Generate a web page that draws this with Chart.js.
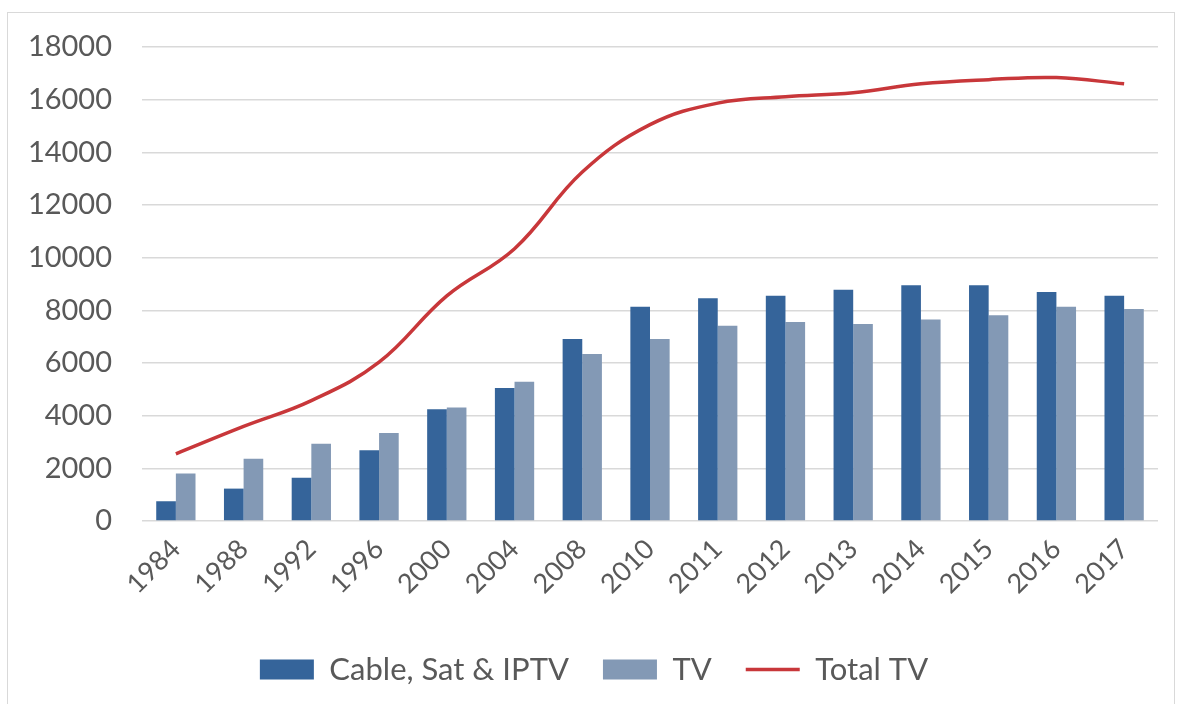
<!DOCTYPE html>
<html>
<head>
<meta charset="utf-8">
<script src="https://cdn.jsdelivr.net/npm/chart.js@4/dist/chart.umd.min.js"></script>
<style>
  body { margin: 0; background: #fff; }
  #frame {
    position: absolute;
    left: 7px;
    top: 12px;
    width: 1166px;
    height: 720px;
    border: 1px solid #d9d9d9;
  }
  canvas { display: block; }
</style>
</head>
<body>
<div id="frame">
  <canvas id="chart" width="1166" height="691"></canvas>
</div>
<script>
'use strict';

// ************************** DATA ****************************************** //
let years = ['1984', '1988', '1992', '1996', '2000', '2004', '2008', '2010',
  '2011', '2012', '2013', '2014', '2015', '2016', '2017'];
let cableSatIptv = [750, 1230, 1640, 2690, 4240, 5050, 6910, 8140, 8460, 8550, 8780, 8950, 8950, 8700, 8550];
let tv = [1800, 2360, 2930, 3340, 4310, 5290, 6340, 6910, 7410, 7560, 7480, 7650, 7810, 8140, 8050];
let totalTv = [2550, 3590, 4570, 6030, 8550, 10340, 13250, 15050, 15870, 16110, 16260, 16600, 16760, 16840, 16600];
let yTicks = [0, 2000, 4000, 6000, 8000, 10000, 12000, 14000, 16000, 18000];

// ************************** STYLE ***************************************** //
let darkBlue = '#35649a';
let greyBlue = '#8399b5';
let red = '#c8373a';
let textGrey = '#595959';
let gridGrey = '#d9d9d9';
let fontFamily = 'Lato, "Open Sans", sans-serif';

// ************************** PLUGINS *************************************** //
// nudge the legend a bit right, like the original
let shiftLegend = {
  id: 'shiftLegend',
  afterLayout(c) {
    c.legend.left += 11;
    c.legend.right += 11;
  }
};

// ************************** CHART ***************************************** //
let chart = document.getElementById('chart');

let chartObj = {
  type: 'bar',
  data: {
    labels: years,
    datasets: [{
      type: 'line',
      label: 'Total TV',
      data: totalTv,
      borderColor: red,
      backgroundColor: red,
      borderWidth: 3.5,
      pointRadius: 0,
      tension: 0.4,
      order: 0
    },
    {
      label: 'Cable, Sat & IPTV',
      data: cableSatIptv,
      backgroundColor: darkBlue,
      borderWidth: 0,
      categoryPercentage: 0.58,
      barPercentage: 1,
      order: 1
    },
    {
      label: 'TV',
      data: tv,
      backgroundColor: greyBlue,
      borderWidth: 0,
      categoryPercentage: 0.58,
      barPercentage: 1,
      order: 1
    }]
  },
  options: {
    responsive: false,
    animation: false,
    layout: {
      padding: { top: 34, right: 16, bottom: 9, left: 0 }
    },
    scales: {
      x: {
        grid: { display: false },
        border: { display: false },
        ticks: {
          color: textGrey,
          font: { family: fontFamily, size: 27 },
          minRotation: 45,
          maxRotation: 45,
          padding: 4
        },
        afterFit: function(scale) {
          scale.height = 99;
        }
      },
      y: {
        min: 0,
        max: 18000,
        afterBuildTicks: function(scale) {
          scale.ticks = yTicks.map(v => ({ value: v }));
        },
        grid: {
          color: gridGrey,
          lineWidth: 1.5,
          drawTicks: false
        },
        border: { display: false },
        ticks: {
          color: textGrey,
          font: { family: fontFamily, size: 29 },
          padding: 30,
          callback: value => String(value)
        },
        afterFit: function(scale) {
          scale.width = 134;
          scale.paddingTop = 0;
          scale.paddingBottom = 0;
        }
      }
    },
    plugins: {
      tooltip: { enabled: false },
      legend: {
        position: 'bottom',
        labels: {
          color: textGrey,
          font: { family: fontFamily, size: 31 },
          usePointStyle: true,
          pointStyleWidth: 54,
          boxHeight: 20,
          padding: 34,
          sort: (a, b) => a.datasetIndex === 0 ? 1 : (b.datasetIndex === 0 ? -1 : a.datasetIndex - b.datasetIndex),
          generateLabels: function(c) {
            let items = Chart.defaults.plugins.legend.labels.generateLabels(c);
            items.forEach(item => {
              if(item.datasetIndex === 0) {
                item.pointStyle = 'line';
                item.lineWidth = 3.5;
                item.strokeStyle = red;
              } else {
                item.pointStyle = 'rect';
                item.lineWidth = 0;
              }
            });
            return items;
          }
        }
      }
    }
  },
  plugins: [shiftLegend]
};

new Chart(chart, chartObj);
</script>
</body>
</html>
